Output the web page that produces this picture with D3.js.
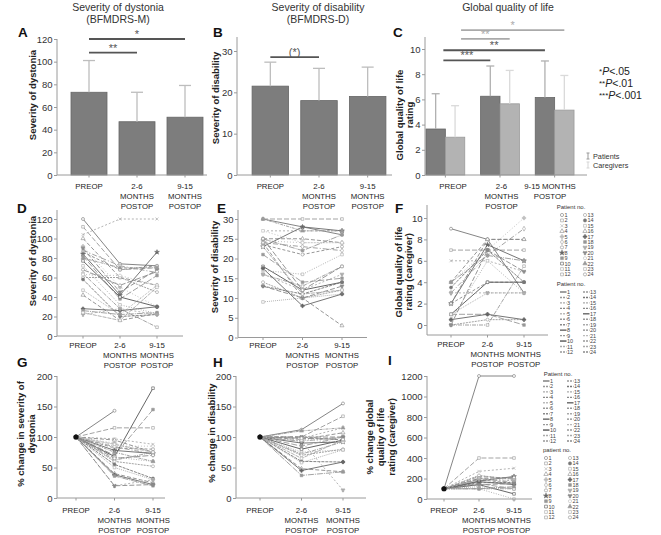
<!DOCTYPE html>
<html><head><meta charset="utf-8">
<script src="https://cdn.jsdelivr.net/npm/d3@7"></script>
<style>body{margin:0;background:#fff}</style>
</head><body><svg id="c" width="661" height="535"></svg>
<script>
// ---------------- DATA ----------------
const categories = ["PREOP", "2-6 MONTHS POSTOP", "9-15 MONTHS POSTOP"];
const catLines = [["PREOP"], ["2-6", "MONTHS", "POSTOP"], ["9-15", "MONTHS", "POSTOP"]];
const catLinesC = [["PREOP"], ["2-6", "MONTHS", "POSTOP"], ["9-15 MONTHS", "POSTOP"]];

const dystoniaMean = [73, 47, 51];
const dystoniaUpper = [101, 73, 79];
const disabilityMean = [21.5, 18, 19];
const disabilityUpper = [27.3, 25.8, 26.1];
const qolSeries = ["Patients", "Caregivers"];
const qolPatientsMean = [3.65, 6.25, 6.15];
const qolPatientsUpper = [6.45, 8.65, 9.05];
const qolCaregiversMean = [3.0, 5.65, 5.15];
const qolCaregiversUpper = [5.5, 8.3, 7.9];

const dystoniaTicks = [0, 20, 40, 60, 80, 100, 120];
const disabilityTicksB = [0, 10, 20, 30];
const disabilityTicksE = [0, 5, 10, 15, 20, 25, 30];
const qolTicksC = [0, 2, 4, 6, 8, 10];
const qolTicksF = [0, 2, 4, 6, 8, 10];
const pctTicks = [0, 50, 100, 150, 200];
const pctQolTicks = [0, 200, 400, 600, 800, 1000, 1200];

// significance brackets: [fromCat, toCat, level, label]
const sigA = [[0, 1, 108, "**"], [0, 2, 120, "*"]];
const sigB = [[0, 1, 28.5, "(*)"]];
// series: 0 = patients (dark), 1 = caregivers (light)
const sigC = [[0, 1, 9.1, "***", 0], [0, 2, 9.9, "**", 0], [0, 1, 10.8, "**", 1], [0, 2, 11.5, "*", 1]];

// per-patient scores [PREOP, 2-6, 9-15]
const dystoniaScores = [
  [120, 74, 72], [112, 68, 70], [104, 120, 120], [100, 60, 52], [92, 50, 30], [88, 72, 65],
  [86, 68, 72], [84, 42, 86], [82, 38, 62], [77, 40, 30], [72, 32, 23], [64, 28, 9],
  [60, 60, 45], [58, 20, 22], [47, 22, 52], [42, 16, 23], [28, 26, 30], [26, 22, 24],
  [22, 28, 22], [90, 45, 68], [63, 62, 52], [80, 70, 70], [24, 16, 50], [68, 52, 66]
];
const disabilityScores = [
  [30, 28, 26], [30, 30, 30], [27, 27, 27], [25, 25, 24], [24.5, 24, 24], [24, 23, 22],
  [23.5, 21, 23], [23, 28, 27], [21, 14, 15], [18, 12, 14], [17, 16, 21], [16, 13, 18],
  [14, 10, 12], [13, 11, 14], [9, 10, 11], [24, 10, 3], [17.5, 8, 11], [25, 22, 26],
  [16, 12, 16], [13, 10, 13], [27, 24, 24], [30, 27, 27], [23, 11, 12], [25, 12, 18]
];
const qolCaregiverScores = [
  [9, 8, 3], [7, 7, 7], [6, 6, 5], [4, 8, 8], [4, 7, 10], [3, 6.5, 9], [2, 4, 4],
  [2, 7.5, 6], [1, 1, 0], [1, 4, 4], [0.5, 6, 3], [0, 0, 5.5], [0, 0.5, 0.5], [3.5, 7, 4],
  [1, 3, 3], [2, 8, 8], [0.5, 1, 0.5], [4, 6.5, 6], [3, 3, 3], [0, 7, 5]
];
const dystoniaPct = [
  [100, 143, null], [100, 115, 115], [100, 97, 88], [100, 95, 75], [100, 90, 70], [100, 84, 72],
  [100, 82, 80], [100, 78, 73], [100, 70, 145], [100, 68, 180], [100, 67, 60], [100, 62, 75],
  [100, 60, 52], [100, 55, 32], [100, 50, 30], [100, 40, 25], [100, 38, 22], [100, 36, 20],
  [100, 20, 30], [100, 20, 22], [100, 85, 85], [100, 75, 60], [100, 88, 75], [100, 65, 70]
];
const disabilityPct = [
  [100, 112, 155], [100, 100, 134], [100, 98, 115], [100, 96, 107], [100, 95, 100], [100, 93, 100],
  [100, 100, 95], [100, 90, 92], [100, 85, 100], [100, 80, 95], [100, 75, 79], [100, 72, 92],
  [100, 70, 80], [100, 60, 59], [100, 58, 79], [100, 48, 43], [100, 45, 59], [100, 37, 43],
  [100, 93, 13], [100, 100, 100], [100, 95, 92], [100, 110, 115], [100, 65, 95], [100, 98, 96]
];
const qolPct = [
  [100, 1200, 1200], [100, 400, 400], [100, 270, 300], [100, 220, 200], [100, 210, 175],
  [100, 200, 160], [100, 190, 150], [100, 175, 220], [100, 150, 100], [100, 140, 50],
  [100, 100, 0], [100, 100, 100], [100, 230, 190], [100, 160, 160], [100, 120, 100],
  [100, 200, 210], [100, 170, 140], [100, 100, 120], [100, 190, 180], [100, 140, 150]
];

const patientNumbers = d3.range(1, 25);
const patientDash = ["", "5,2", "2,2", "4,2", "1,2", "5,2,1,2", "3,2", "", "6,2", "", "1,1.5", "4,1,1,1",
  "2,1", "3,1", "1,1", "4,2", "", "6,1,1,1", "2,2", "5,2", "1,2", "3,1,1,1", "4,1", "6,2"];
const patientGray = ["#777", "#999", "#aaa", "#8a8a8a", "#bbb", "#999", "#8a8a8a", "#666", "#999", "#555", "#aaa", "#999",
  "#999", "#777", "#aaa", "#8a8a8a", "#666", "#999", "#aaa", "#8a8a8a", "#bbb", "#999", "#aaa", "#8a8a8a"];
const patientSymbol = ["circle", "square", "times", "triangle", "plus", "diamond", "circle", "star", "square", "square", "square", "square",
  "circle", "circle", "square", "triangle", "plus", "square", "wye", "wye", "circle", "triangle", "square", "circle"];
const patientOpen = [1, 1, 0, 1, 0, 1, 1, 0, 0, 1, 1, 1, 1, 0, 1, 1, 0, 0, 0, 0, 1, 0, 1, 1];

// ---------------- DRAWING ----------------
const FONT = "'Liberation Sans', Arial, Helvetica, sans-serif";
const svg = d3.select("#c").style("font-family", FONT);
const AX = "#9a9a9a";
const symMap = {
  circle: d3.symbolCircle, square: d3.symbolSquare, triangle: d3.symbolTriangle, diamond: d3.symbolDiamond,
  star: d3.symbolStar, wye: d3.symbolWye, plus: d3.symbolCross, times: d3.symbolTimes || d3.symbolCross
};

function text(x, y, s, o = {}) {
  const t = svg.append("text").attr("x", x).attr("y", y).text(s)
    .attr("font-size", o.size || 10).attr("fill", o.fill || "#222")
    .attr("text-anchor", o.anchor || "start");
  if (o.weight) t.attr("font-weight", o.weight);
  return t;
}
function letter(x, y, s) { text(x, y, s, {size: 13.5, weight: "bold", fill: "#111"}); }
function title(cx, y, lines) { lines.forEach((l, i) => text(cx, y + i * 12, l, {size: 10.5, anchor: "middle", fill: "#333"})); }
function yLabel(lines, xs, cy) {
  lines.forEach((l, i) => svg.append("text").attr("transform", `translate(${xs[i]},${cy}) rotate(-90)`)
    .attr("text-anchor", "middle").attr("font-size", 9.5).attr("font-weight", "bold").attr("fill", "#222").text(l));
}
function yAxis(y, x0, ticks, topPx, botPx) {
  const g = svg.append("g").attr("transform", `translate(${x0},0)`)
    .call(d3.axisLeft(y).tickValues(ticks).tickFormat(d3.format("d")).tickSize(3).tickPadding(1.5).tickSizeOuter(0));
  g.select(".domain").remove();
  g.selectAll(".tick line").attr("stroke", AX);
  g.selectAll(".tick text").attr("fill", "#333").attr("font-size", 9.5).attr("font-family", FONT);
  svg.append("line").attr("x1", x0).attr("x2", x0).attr("y1", topPx).attr("y2", botPx).attr("stroke", AX);
}
function xAxis(xpos, x0, x1, yPx, lines, baseY, labelPos) {
  svg.append("line").attr("x1", x0).attr("x2", x1).attr("y1", yPx).attr("y2", yPx).attr("stroke", AX);
  categories.forEach((c, i) => {
    svg.append("line").attr("x1", xpos(c)).attr("x2", xpos(c)).attr("y1", yPx).attr("y2", yPx + 2.5).attr("stroke", AX);
    const lx = labelPos ? labelPos(c) : xpos(c);
    lines[i].forEach((l, j) => text(lx, baseY + j * 9.8, l, {size: 7.8, anchor: "middle", fill: "#222"}));
  });
}
function errBar(cx, yTop, yBase, w, color) {
  svg.append("line").attr("x1", cx).attr("x2", cx).attr("y1", yBase).attr("y2", yTop).attr("stroke", color).attr("stroke-width", 1.3);
  svg.append("line").attr("x1", cx - w / 2).attr("x2", cx + w / 2).attr("y1", yTop).attr("y2", yTop).attr("stroke", color).attr("stroke-width", 1.3);
}
function sig(x1, x2, yPx, label, color) {
  svg.append("line").attr("x1", x1).attr("x2", x2).attr("y1", yPx).attr("y2", yPx).attr("stroke", color).attr("stroke-width", 1.8);
  text((x1 + x2) / 2, yPx - 1, label, {size: 11, anchor: "middle", fill: color});
}

// ---- Panel A / B (single bars) ----
function barPanel(o) {
  const x = d3.scaleBand().domain(categories).range(o.range).paddingInner(0.25).paddingOuter(0.125);
  const y = d3.scaleLinear().domain(o.domain).range(o.yr);
  svg.append("g").selectAll("rect").data(o.mean).join("rect")
    .attr("x", (d, i) => x(categories[i])).attr("width", x.bandwidth())
    .attr("y", d => y(d)).attr("height", d => y(0) - y(d))
    .attr("fill", "#7d7d7d").attr("stroke", "#666").attr("stroke-width", 0.8);
  o.upper.forEach((u, i) => errBar(x(categories[i]) + x.bandwidth() / 2, y(u), y(o.mean[i]), 12, "#bdbdbd"));
  yAxis(y, o.x0, o.ticks, o.top, y(0));
  const c = d => x(d) + x.bandwidth() / 2;
  xAxis(c, o.x0, o.xEnd, y(0), catLines, 189);
  o.sig.forEach(s => sig(c(categories[s[0]]), c(categories[s[1]]), y(s[2]), s[3], "#555"));
}
barPanel({mean: dystoniaMean, upper: dystoniaUpper, range: [65, 209], domain: [0, 120], yr: [175, 39],
  x0: 57, xEnd: 207, top: 39, ticks: dystoniaTicks, sig: sigA});
barPanel({mean: disabilityMean, upper: disabilityUpper, range: [246, 392], domain: [0, 30], yr: [175, 51],
  x0: 237, xEnd: 392, top: 37, ticks: disabilityTicksB, sig: sigB});

// ---- Panel C (grouped bars) ----
(function () {
  const x = d3.scaleBand().domain(categories).range([417.5, 582.5]).paddingInner(0.29).paddingOuter(0.155);
  const xs = d3.scaleBand().domain(qolSeries).range([0, x.bandwidth()]);
  const y = d3.scaleLinear().domain([0, 10]).range([175, 49]);
  const series = [
    {mean: qolPatientsMean, upper: qolPatientsUpper, fill: "#7d7d7d", stroke: "#666", err: "#b0b0b0"},
    {mean: qolCaregiversMean, upper: qolCaregiversUpper, fill: "#b3b3b3", stroke: "#9a9a9a", err: "#dadada"}
  ];
  series.forEach((s, k) => {
    svg.append("g").selectAll("rect").data(s.mean).join("rect")
      .attr("x", (d, i) => x(categories[i]) + xs(qolSeries[k])).attr("width", xs.bandwidth())
      .attr("y", d => y(d)).attr("height", d => y(0) - y(d))
      .attr("fill", s.fill).attr("stroke", s.stroke).attr("stroke-width", 0.8);
    s.upper.forEach((u, i) => errBar(x(categories[i]) + xs(qolSeries[k]) + xs.bandwidth() / 2, y(u), y(s.mean[i]), 8, s.err));
  });
  yAxis(y, 425, qolTicksC, 37, y(0));
  const gc = d => x(d) + x.bandwidth() / 2;
  const lab = d3.scalePoint().domain(categories).range([453, 550]);
  xAxis(gc, 425, 587, y(0), catLinesC, 189, lab);
  sigC.forEach(s => {
    const k = s[4];
    const sc = d => x(d) + xs(qolSeries[k]) + xs.bandwidth() / 2;
    const x1 = k === 0 ? gc(categories[s[0]]) - 2 : sc(categories[s[0]]) + 6;
    sig(x1, sc(categories[s[1]]), y(s[2]), s[3], k === 0 ? "#555" : "#aaa");
  });
})();

// ---- Line panels ----
function linePanel(o) {
  const x = d3.scalePoint().domain(categories).range(o.px);
  const y = d3.scaleLinear().domain(o.domain).range(o.yr);
  const line = d3.line().defined(d => d[1] != null).x(d => x(categories[d[0]])).y(d => y(d[1]));
  const g = svg.append("g");
  o.data.forEach((row, p) => {
    g.append("path").attr("d", line(row.map((v, i) => [i, v])))
      .attr("fill", "none").attr("stroke", patientGray[p]).attr("stroke-width", 0.9)
      .attr("stroke-dasharray", patientDash[p]);
  });
  o.data.forEach((row, p) => {
    row.forEach((v, i) => {
      if (v == null) return;
      g.append("path").attr("d", d3.symbol(symMap[patientSymbol[p]], 7)())
        .attr("transform", `translate(${x(categories[i])},${y(v)})`)
        .attr("fill", patientOpen[p] ? "#fff" : patientGray[p])
        .attr("stroke", patientGray[p]).attr("stroke-width", 0.6);
    });
  });
  if (o.baseline) {
    g.append("circle").attr("cx", x(categories[0])).attr("cy", y(o.data[0][0])).attr("r", 2.6).attr("fill", "#111");
  }
  yAxis(y, o.x0, o.ticks, o.top, o.axisY);
  xAxis(d => x(d), o.x0, o.xEnd, o.axisY, catLines, o.catY);
}
linePanel({data: dystoniaScores, px: [83, 157], domain: [0, 120], yr: [336, 219], x0: 57, xEnd: 183, top: 210, axisY: 336, ticks: dystoniaTicks, catY: 348});
linePanel({data: disabilityScores, px: [263, 342], domain: [0, 30], yr: [337.5, 219], x0: 238, xEnd: 367, top: 210, axisY: 337.5, ticks: disabilityTicksE, catY: 348});
linePanel({data: qolCaregiverScores, px: [451, 524], domain: [0, 10], yr: [325, 218], x0: 427, xEnd: 548, top: 205, axisY: 335, ticks: qolTicksF, catY: 347});
linePanel({data: dystoniaPct, px: [76, 153], domain: [0, 200], yr: [498, 376], x0: 57, xEnd: 165, top: 376, axisY: 498, ticks: pctTicks, catY: 513, baseline: true});
linePanel({data: disabilityPct, px: [260, 343], domain: [0, 200], yr: [498, 376], x0: 236, xEnd: 366, top: 376, axisY: 498, ticks: pctTicks, catY: 513, baseline: true});
linePanel({data: qolPct, px: [444, 514], domain: [0, 1200], yr: [499, 376], x0: 427, xEnd: 532, top: 376, axisY: 499, ticks: pctQolTicks, catY: 513, baseline: true});

// ---- Titles, letters, axis labels ----
title(118, 11, ["Severity of dystonia", "(BFMDRS-M)"]);
title(318, 11, ["Severity of disability", "(BFMDRS-D)"]);
title(508, 11, ["Global quality of life"]);
letter(18, 37, "A"); letter(213, 37, "B"); letter(393, 37, "C");
letter(17, 213, "D"); letter(217, 213, "E"); letter(395, 213, "F");
letter(17, 367, "G"); letter(213, 367, "H"); letter(388, 365, "I");
yLabel(["Severity of dystonia"], [36], 95);
yLabel(["Severity of disability"], [219], 98);
yLabel(["Global quality of life", "rating"], [403, 413], 115);
yLabel(["Severity of dystonia"], [36], 261);
yLabel(["Severity of disability"], [218], 267);
yLabel(["Global quality of life", "rating (caregiver)"], [402, 412], 272);
yLabel(["% change in severity of", "dystonia"], [24, 35], 434);
yLabel(["% change in disability"], [215], 433);
yLabel(["% change global", "quality of life", "rating (caregiver)"], [373, 384, 395], 437);

// ---- P-value legend ----
const pLegend = [["*", ".05"], ["**", ".01"], ["***", ".001"]];
pLegend.forEach((p, i) => {
  const t = svg.append("text").attr("x", 599).attr("y", 75 + i * 12).attr("font-size", 10.5).attr("fill", "#222");
  t.append("tspan").text(p[0]).attr("font-size", 8).attr("dy", -1);
  t.append("tspan").text("P").attr("font-style", "italic").attr("dy", 1);
  t.append("tspan").text("<" + p[1]);
});
// ---- Patients / Caregivers legend ----
[["#999", qolSeries[0]], ["#d5d5d5", qolSeries[1]]].forEach((s, i) => {
  const cy = 156 + i * 9;
  svg.append("line").attr("x1", 588).attr("x2", 588).attr("y1", cy - 3).attr("y2", cy + 3).attr("stroke", s[0]);
  svg.append("line").attr("x1", 586.5).attr("x2", 589.5).attr("y1", cy - 3).attr("y2", cy - 3).attr("stroke", s[0]);
  svg.append("line").attr("x1", 586.5).attr("x2", 589.5).attr("y1", cy + 3).attr("y2", cy + 3).attr("stroke", s[0]);
  text(593, cy + 2.5, s[1], {size: 7.3, fill: "#333"});
});

// ---- patient legends ----
function markerLegend(tx, ty, ttl, y0, cols) {
  text(tx, ty, ttl, {size: 6, anchor: "middle", fill: "#333"});
  patientNumbers.forEach((n, idx) => {
    const col = idx < 12 ? 0 : 1, row = idx % 12;
    const cy = y0 + row * 5.4, sx = cols[col];
    svg.append("path").attr("d", d3.symbol(symMap[patientSymbol[idx]], 8)())
      .attr("transform", `translate(${sx},${cy})`)
      .attr("fill", patientOpen[idx] ? "#fff" : patientGray[idx]).attr("stroke", patientGray[idx]).attr("stroke-width", 0.6);
    text(sx + 2.5, cy + 2, n, {size: 5.5, fill: "#444"});
  });
}
function lineLegend(tx, ty, ttl, y0, cols) {
  text(tx, ty, ttl, {size: 6, anchor: "middle", fill: "#333"});
  patientNumbers.forEach((n, idx) => {
    const col = idx < 12 ? 0 : 1, row = idx % 12;
    const cy = y0 + row * 5.45, sx = cols[col];
    svg.append("line").attr("x1", sx).attr("x2", sx + 6.5).attr("y1", cy).attr("y2", cy)
      .attr("stroke", patientGray[idx]).attr("stroke-width", 1.4).attr("stroke-dasharray", patientDash[idx] ? "2,1" : "");
    text(sx + 7, cy + 2, n, {size: 5.5, fill: "#444"});
  });
}
markerLegend(571, 209, "Patient no.", 215, [562, 585]);
lineLegend(571, 286, "Patient no.", 292, [560, 583]);
lineLegend(558, 376, "Patient no.", 381, [543, 567]);
markerLegend(557, 452, "patient no.", 458, [546, 570]);
</script>
</body></html>
